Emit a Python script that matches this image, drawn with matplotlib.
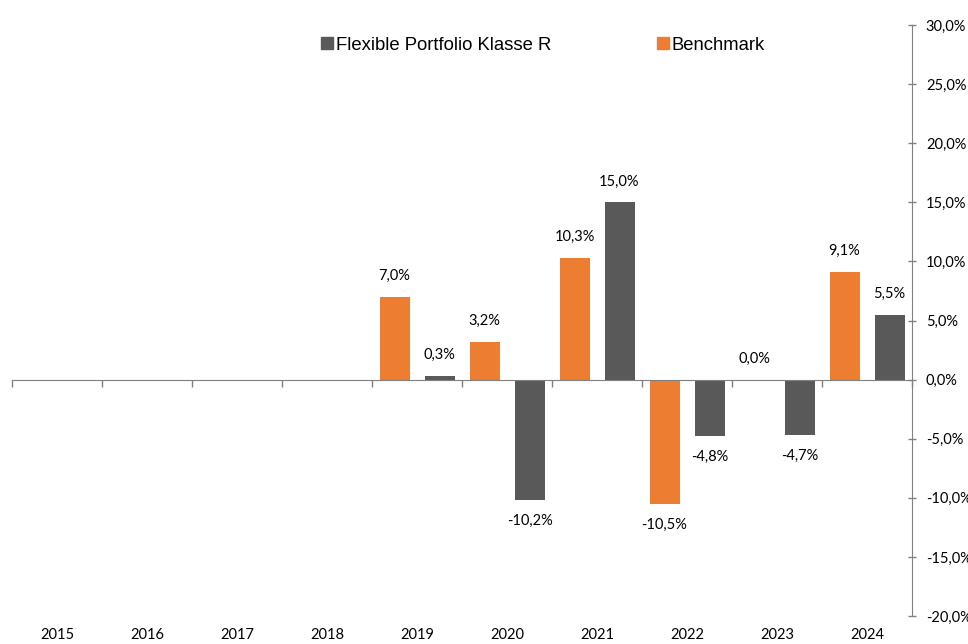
import numpy as np
import matplotlib.pyplot as plt
from matplotlib.patches import Patch

years = ["2015", "2016", "2017", "2018", "2019", "2020", "2021", "2022", "2023", "2024"]
# None = no value for that year
benchmark = [None, None, None, None, 7.0, 3.2, 10.3, -10.5, 0.0, 9.1]
fund = [None, None, None, None, 0.3, -10.2, 15.0, -4.8, -4.7, 5.5]

fund_name = "Flexible Portfolio Klasse R"
bench_name = "Benchmark"

color_fund = "#595959"
color_bench = "#ED7D31"
label_font = "Lato"


def fmt(v):
    return "{0:.1f}%".format(v).replace(".", ",")


def add_labels(ax, xs, values):
    for x, v in zip(xs, values):
        if v is None:
            continue
        offset = 15 if v >= 0 else -15
        ax.annotate(fmt(v), (x, v), xytext=(0, offset), textcoords="offset points",
                    ha="center", va="center", fontsize=10.5, family=label_font,
                    color="#000000")


fig = plt.figure(figsize=(9.68, 6.44), dpi=100)
ax = fig.add_axes([12 / 968, 0.0435, 900 / 968, 0.961 - 0.0435])

x = np.arange(len(years))
width = 1.0 / 3
offset = 0.25

bench_vals = [np.nan if v is None else v for v in benchmark]
fund_vals = [np.nan if v is None else v for v in fund]
ax.bar(x - offset, bench_vals, width=width, color=color_bench, zorder=2)
ax.bar(x + offset, fund_vals, width=width, color=color_fund, zorder=2)

add_labels(ax, x - offset, benchmark)
add_labels(ax, x + offset, fund)

ax.set_xlim(-0.5, len(years) - 0.5)
ax.set_ylim(-20, 30)

# right axis
ax.yaxis.tick_right()
ax.set_yticks(np.arange(-20, 31, 5))
ax.set_yticklabels([fmt(v) for v in np.arange(-20, 31, 5)], family=label_font, fontsize=10.5)
ax.tick_params(axis="y", direction="inout", length=6, width=1, color="#808080", pad=7)

# zero line with category boundary ticks
ax.spines["bottom"].set_position(("data", 0))
ax.spines["bottom"].set_color("#808080")
ax.spines["right"].set_color("#808080")
ax.spines["left"].set_visible(False)
ax.spines["top"].set_visible(False)
ax.set_xticks(np.arange(-0.5, len(years), 1.0))
ax.set_xticklabels([])
ax.tick_params(axis="x", direction="out", length=5, width=1, color="#808080")

# year labels at the bottom of the plot area
sec = ax.secondary_xaxis(0.0)
sec.set_xticks(x)
sec.set_xticklabels(years, family=label_font, fontsize=10.5)
sec.tick_params(length=0, pad=9)
sec.spines["bottom"].set_visible(False)

handles = [Patch(color=color_fund), Patch(color=color_bench)]
fig.legend(handles, [fund_name, bench_name], loc="center", bbox_to_anchor=(0.561, 0.930),
           ncol=2, frameon=False, prop={"family": "Liberation Sans", "size": 13.3},
           handlelength=0.65, handleheight=0.65, handletextpad=0.15, columnspacing=5.7)

fig.savefig("out.png", dpi=100)
